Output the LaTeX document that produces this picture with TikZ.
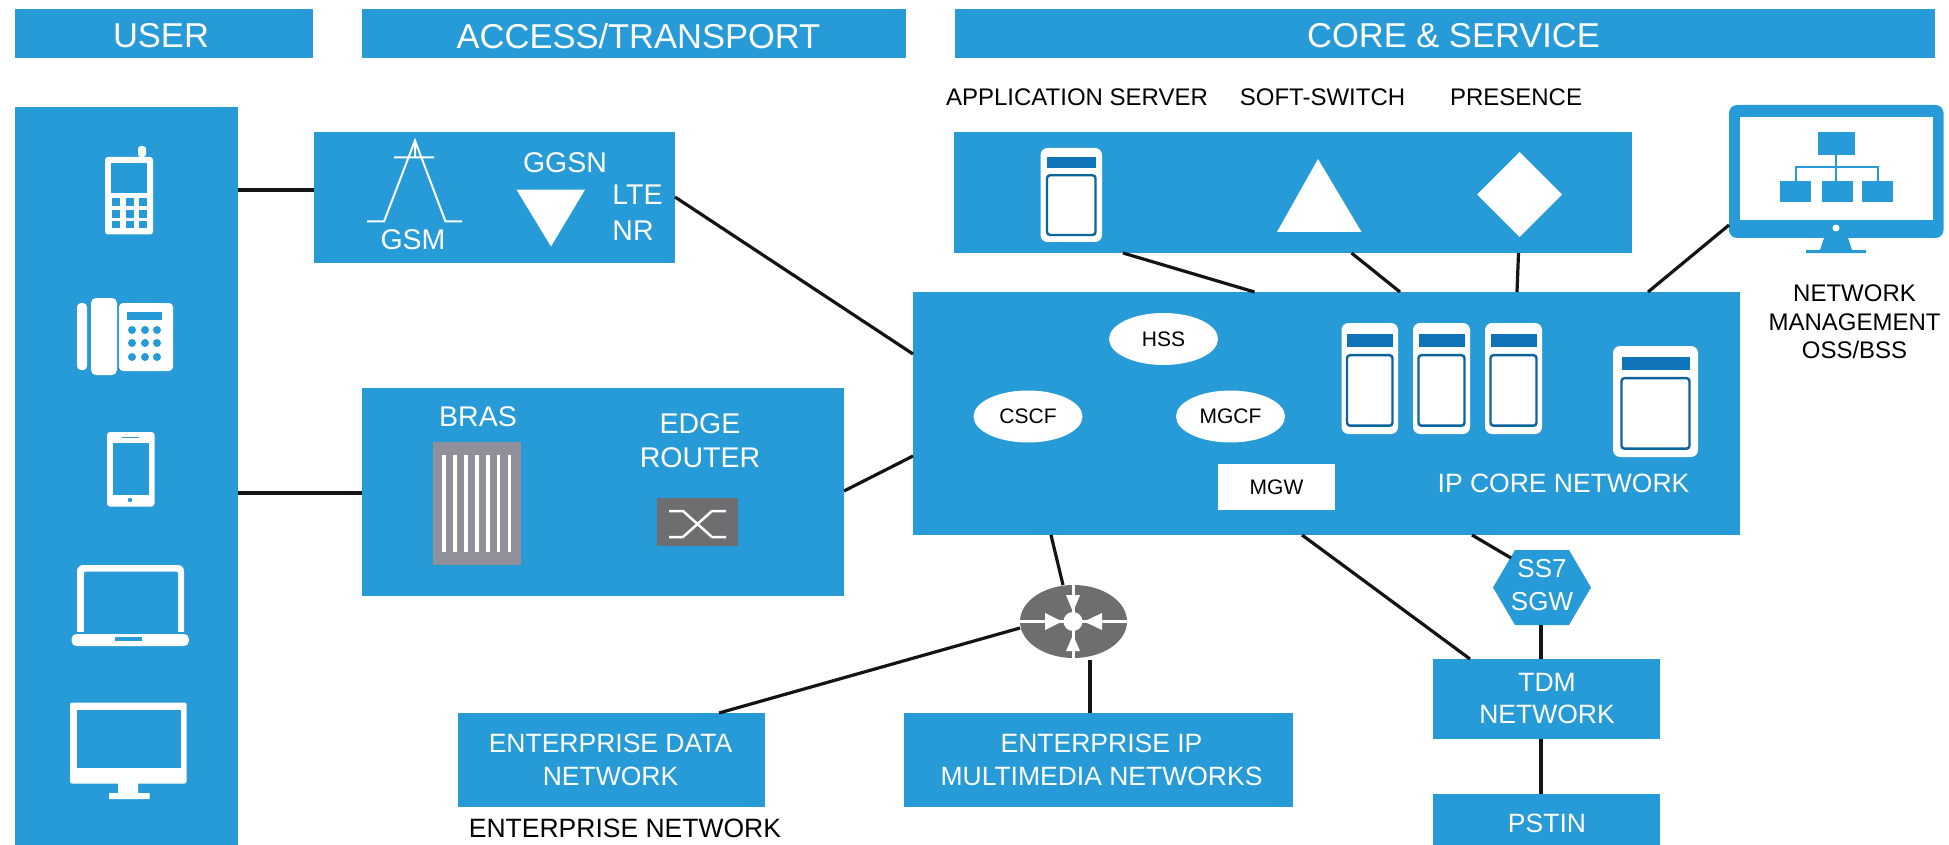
\documentclass[tikz,border=0pt]{standalone}
\usepackage{fontspec}
\setmainfont{Liberation Sans}
\usetikzlibrary{calc,shapes.geometric}
\definecolor{netblue}{HTML}{269BD8}
\definecolor{deepblue}{HTML}{0F74B8}
\definecolor{brasgray}{HTML}{90909A}
\definecolor{edgegray}{HTML}{6E6E70}
\newcommand\fz[2]{\fontsize{#1}{#2}\selectfont}
\tikzset{
  panel/.style={fill=netblue,draw=none,inner sep=0pt,outer sep=0pt,text=white,align=center},
  wlabel/.style={text=white,inner sep=0pt,align=center},
  blabel/.style={text=black,inner sep=0pt,align=center},
  bubble/.style={ellipse,fill=white,draw=none,inner sep=0pt,outer sep=0pt,text=black,minimum width=109pt,minimum height=52pt,font=\fz{21}{25}},
  link/.style={draw=black!92,line width=3.2pt},
  wstroke/.style={draw=white,line width=2.5pt,line join=round},
  headfont/.style={font=\fz{34.5}{38}},
  boxfont/.style={font=\fz{26.5}{32.5}},
}
% #1 name, #2 x0, #3 y0, #4 x1, #5 y1, #6 text
\newcommand\panelbox[6]{\node[panel,boxfont,minimum width={(#4)-(#2)},minimum height={(#5)-(#3)}] (#1) at ({(#2+#4)/2},{(#3+#5)/2}) {#6};}
% server icon: #1 x0, #2 y0, #3 x1, #4 inset, #5 height
\newcommand\servericon[5]{%
  \fill[white,rounded corners=7pt] (#1,#2) rectangle (#3,{#2+#5});
  \fill[deepblue] ({#1+#4},{#2+0.1*#5}) rectangle ({#3-#4},{#2+0.215*#5});
  \draw[deepblue!85!black,line width=2.4pt,fill=white,rounded corners=3pt] ({#1+#4},{#2+0.29*#5}) rectangle ({#3-#4},{#2+0.925*#5});
}
\begin{document}
\begin{tikzpicture}[x=1pt,y=-1pt]
\useasboundingbox (0,0) rectangle (1949,845);
% headers
\panelbox{huser}{15}{9}{313}{58}{}
\panelbox{haccess}{362}{9}{906}{58}{}
\panelbox{hcore}{955}{9}{1935}{58}{}
\node[wlabel,headfont] (luser) at (161,36) {USER};
\node[wlabel,headfont] (laccess) at (638.5,36) {ACCESS/TRANSPORT};
\node[wlabel,headfont] (lhcore) at (1453.5,36) {CORE \& SERVICE};
% panels
\panelbox{user}{15}{107}{238}{845}{}
\panelbox{gsm}{314}{132}{675}{263}{}
\panelbox{bras}{362}{388}{844}{596}{}
\panelbox{svc}{953.5}{132}{1632}{253}{}
\panelbox{core}{913}{292}{1739.5}{535}{}
\panelbox{entd}{458}{713}{765}{807}{}
\panelbox{enti}{904}{713}{1293}{807}{}
\panelbox{tdm}{1433}{659}{1660}{739}{}
\panelbox{pstin}{1433}{794}{1660}{851}{}
\node[wlabel,boxfont] (lentd) at (610.5,760) {ENTERPRISE DATA\\NETWORK};
\node[wlabel,boxfont] (lenti) at (1101.5,760) {ENTERPRISE IP\\MULTIMEDIA NETWORKS};
\node[wlabel,boxfont] (ltdm) at (1547,698.5) {TDM\\NETWORK};
\node[wlabel,boxfont] (lpstin) at (1547,823) {PSTIN};
% management monitor
\node[fill=netblue,draw=none,rounded corners=8pt,inner sep=0pt,outer sep=0pt,minimum width=214.5pt,minimum height=133pt] (nms) at (1836.25,171.5) {};
\fill[white] (1739.5,117) rectangle (1933,220);
\fill[white] (1836,228) circle (3.5);
\fill[netblue] (1824,238) -- (1848,238) -- (1852,250) -- (1866,250) -- (1866,253) -- (1806,253) -- (1806,250) -- (1820,250) -- cycle;
\fill[netblue] (1818,132) rectangle (1855,155);
\fill[netblue] (1780,181) rectangle (1811,202);
\fill[netblue] (1822,181) rectangle (1852.5,202);
\fill[netblue] (1862,181) rectangle (1893,202);
\draw[netblue,line width=2pt] (1836,155) -- (1836,181) (1796,181) -- (1796,167) -- (1878,167) -- (1878,181);
% router and gateway
\node[ellipse,fill=edgegray,draw=none,inner sep=0pt,outer sep=0pt,minimum width=107pt,minimum height=73pt] (router) at (1073.5,621.5) {};
\fill[netblue] (1515,550) -- (1569,550) -- (1591,587.5) -- (1569,625) -- (1515,625) -- (1493,587.5) -- cycle;
\node[wlabel,font=\fz{26}{33.5},minimum width=98pt,minimum height=75pt] (ss7) at (1542,585) {SS7\\SGW};
\coordinate (ss7mid) at (1542,587.5);
% connectors
\draw[link] ($(user.north east)+(0,83)$) -- ($(gsm.north west)+(0,58)$);
\draw[link] ($(user.north east)+(0,386)$) -- ($(bras.north west)+(0,105)$);
\draw[link] ($(gsm.north east)+(0,65)$) -- ($(core.north west)+(0,62)$);
\draw[link] ($(bras.north east)+(0,103)$) -- ($(core.north west)+(0,164)$);
\draw[link] ($(svc.south west)+(169.5,0)$) -- ($(core.north west)+(341.5,0)$);
\draw[link] ($(svc.south west)+(398,0)$) -- ($(core.north west)+(487,0)$);
\draw[link] ($(svc.south west)+(565,0)$) -- ($(core.north west)+(604,0)$);
\draw[link] ($(nms.south west)+(0,-13)$) -- ($(core.north west)+(735,0)$);
\draw[link] ($(core.south west)+(138,0)$) -- ($(router.center)+(-10.5,-36.5)$);
\draw[link] ($(router.center)+(-53.5,6.5)$) -- ($(entd.north west)+(261,0)$);
\draw[link] ($(router.center)+(16.5,38.5)$) -- ($(enti.north west)+(186,0)$);
\draw[link] ($(core.south west)+(389,0)$) -- ($(tdm.north west)+(37,0)$);
\draw[link] ($(core.south west)+(559,0)$) -- ($(ss7mid)+(-31,-29.5)$);
\draw[link] ($(ss7mid)+(-1,37.5)$) -- ($(tdm.north west)+(108,0)$);
\draw[link] ($(tdm.south west)+(108,0)$) -- ($(pstin.north west)+(108,0)$);
% router glyph
\draw[white,line width=3pt] (1020,621.5) -- (1127,621.5) (1073,585) -- (1073,658);
\fill[white] (1073,621.5) circle (9.5);
\fill[white] (1066,595) -- (1080,595) -- (1073,612) -- cycle;
\fill[white] (1066,651) -- (1080,651) -- (1073,635) -- cycle;
\fill[white] (1045,613) -- (1045,630) -- (1062,621.5) -- cycle;
\fill[white] (1102,613) -- (1102,630) -- (1084,621.5) -- cycle;
% user devices
\fill[white,rounded corners=3pt] (138,157) -- (138,146) -- (146,146) -- (146,157) -- cycle;
\fill[white,rounded corners=3pt] (105,157) rectangle (153,234.5);
\fill[netblue] (111,163) rectangle (147,193.5);
\foreach \cx in {112,125.5,139}{\foreach \cy in {198.5,210.5,221}{\fill[netblue] (\cx,\cy) rectangle ({\cx+8},{\cy+7.5});}}
\fill[white,rounded corners=4pt] (77,303) rectangle (87,370);
\fill[white,rounded corners=5pt] (91,298) rectangle (117,375);
\fill[white,rounded corners=4pt] (119,303) rectangle (173,371);
\fill[netblue] (127,312) rectangle (162,320);
\foreach \cx in {132,145,157}{\foreach \cy in {330,343,357}{\fill[netblue] (\cx,\cy) circle (4);}}
\fill[white,rounded corners=3pt] (107,432) rectangle (154.5,506.5);
\fill[netblue] (112.5,443) rectangle (149,494.5);
\fill[netblue] (130,500) circle (2.2);
\draw[netblue,line width=1pt] (122,437.5) -- (139,437.5);
\fill[white,rounded corners=6pt] (77,565) rectangle (184,640);
\fill[netblue,rounded corners=2pt] (84,571.5) rectangle (178,640);
\fill[netblue] (70,632) rectangle (190,636);
\fill[white,rounded corners=5pt] (71.5,634) rectangle (189,646);
\fill[netblue] (115,637) rectangle (142,641);
\fill[white,rounded corners=2pt] (70,702.5) rectangle (186.5,783.5);
\fill[netblue] (77,709.5) rectangle (181,768);
\fill[white] (118,783) rectangle (138,793) (109,793) rectangle (149.5,799);
% GSM antenna and GGSN
\draw[white,line width=2pt] (367,221.5) -- (384,221.5) -- (415,140.5) -- (445.5,221.5) -- (462,221.5) (394,157.5) -- (434,157.5) (415,140.5) -- (415,157.5);
\fill[white] (516.5,189.7) -- (585,189.7) -- (551,246.5) -- cycle;
\node[wlabel,font=\fz{28.5}{34}] (lgsm) at (413,240) {GSM};
\node[wlabel,font=\fz{28.5}{34}] (lggsn) at (565,163) {GGSN};
\node[wlabel,font=\fz{28.5}{34}] (llte) at (637.5,195) {LTE};
\node[wlabel,font=\fz{28.5}{34}] (lnr) at (633,231) {NR};
% BRAS and edge router
\fill[brasgray] (433,442) rectangle (521,565);
\foreach \bx in {444,455,466,477,488,498.5,509.5}{\draw[white,line width=3.2pt] (\bx,454.5) -- (\bx,552);}
\node[wlabel,font=\fz{28.5}{34}] (lbras) at (478,417) {BRAS};
\node[wlabel,font=\fz{28.5}{34.5}] (ledge) at (700,440.5) {EDGE\\ROUTER};
\fill[edgegray] (657,498) rectangle (738,546);
\draw[wstroke] (669,511) -- (683,511) -- (712,537) -- (726,537);
\draw[wstroke] (669,537) -- (683,537) -- (712,511) -- (726,511);
% service icons
\servericon{1040.5}{148}{1102}{6.5}{94}
\fill[white] (1318,159) -- (1361.5,232) -- (1277,232) -- cycle;
\fill[white] (1519.5,152) -- (1562,194.5) -- (1519.5,237) -- (1477,194.5) -- cycle;
% core content
\node[bubble] (hss) at (1163.5,339) {HSS};
\node[bubble] (cscf) at (1028,416.5) {CSCF};
\node[bubble] (mgcf) at (1230.5,416.5) {MGCF};
\node[fill=white,text=black,inner sep=0pt,minimum width=117pt,minimum height=46pt,font=\fz{21}{25}] (mgw) at (1276.5,487) {MGW};
\servericon{1341.5}{323}{1398}{5.5}{111}
\servericon{1413}{323}{1470}{5.5}{111}
\servericon{1485}{323}{1542}{5.5}{111}
\servericon{1613}{346}{1698}{8.5}{111}
\node[wlabel,font=\fz{26.5}{32}] (lcore) at (1563.5,483) {IP CORE NETWORK};
% black labels
\node[blabel,font=\fz{24}{28}] (lapp) at (1077,97) {APPLICATION SERVER};
\node[blabel,font=\fz{24}{28}] (lsoft) at (1322.5,97) {SOFT-SWITCH};
\node[blabel,font=\fz{24}{28}] (lpres) at (1516,97) {PRESENCE};
\node[blabel,font=\fz{24}{28.5}] (lnm) at (1854.5,322) {NETWORK\\MANAGEMENT\\OSS/BSS};
\node[blabel,font=\fz{26.5}{32}] (lent) at (625,828) {ENTERPRISE NETWORK};
\end{tikzpicture}
\end{document}
